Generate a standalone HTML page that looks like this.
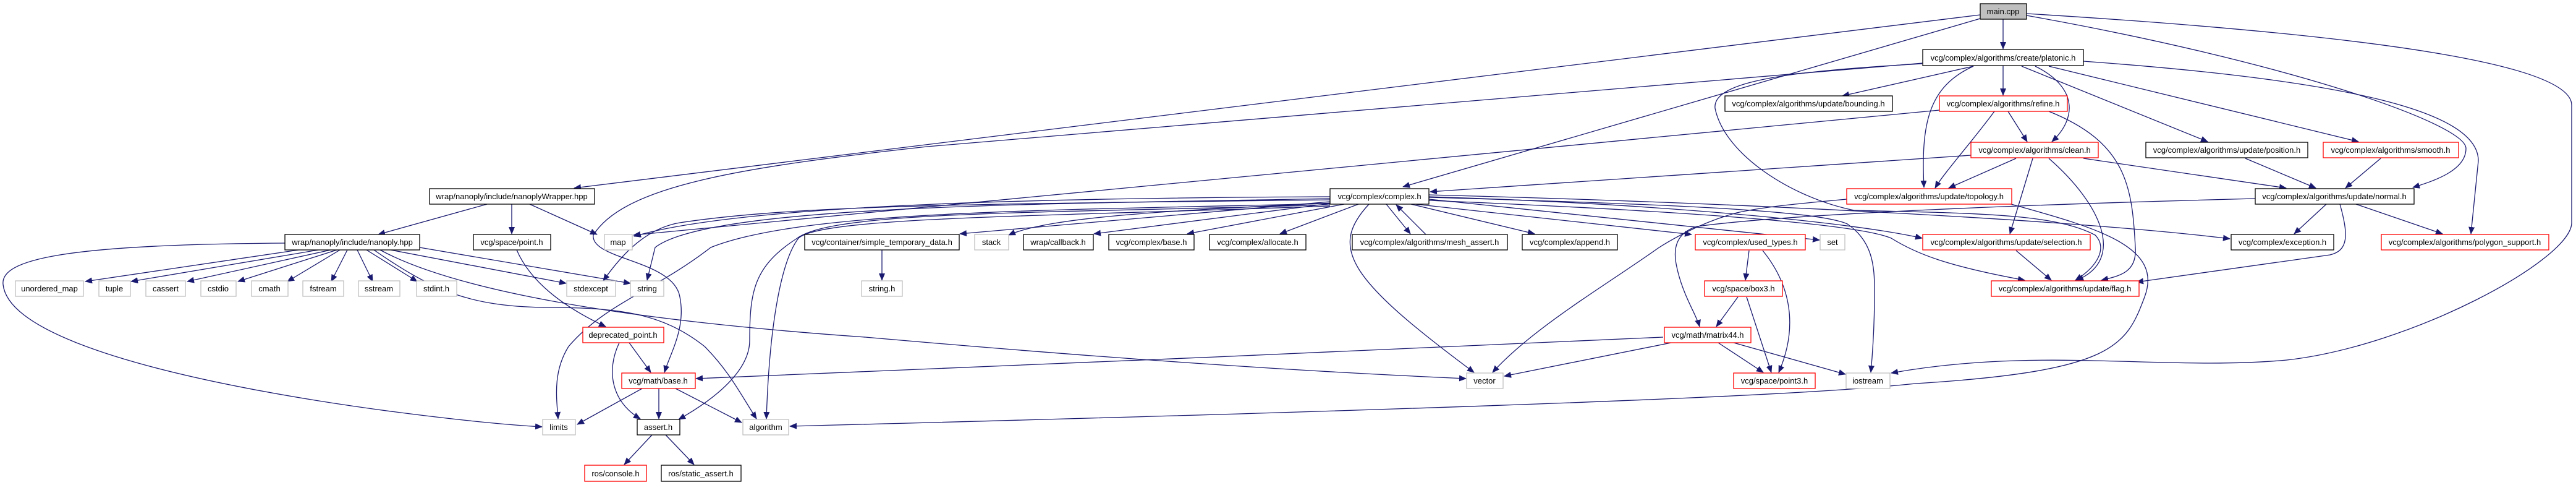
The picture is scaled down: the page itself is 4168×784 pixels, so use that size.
<!DOCTYPE html>
<html><head><meta charset="utf-8"><style>
html,body{margin:0;padding:0;background:#fff}
svg{display:block}
text{font-family:"Liberation Sans",sans-serif;font-size:13px;fill:#000}
</style></head><body>
<svg width="4168" height="784" viewBox="0 0 4168 784" xmlns="http://www.w3.org/2000/svg">
<defs>
<marker id="a" markerWidth="12" markerHeight="10" refX="11" refY="5" orient="auto" markerUnits="userSpaceOnUse">
<path d="M0,0 L12,5 L0,10 z" fill="#191970"/></marker>
</defs>
<g fill="none" stroke="#191970" stroke-width="1.3" marker-end="url(#a)">
<path d="M3241,31 L3241,79"/>
<path d="M3204,24 L929,304"/>
<path d="M3204,30 L2270,302"/>
<path d="M3279,25 C3700,100 3990,200 3990,240 C3990,275 3940,292 3904,303"/>
<path d="M3279,22 C3900,60 4161,110 4161,170 L4161,360 C4161,420 3900,560 3700,582 C3500,600 3300,560 3060,603"/>
<path d="M3111,102 L1500,237 C1200,270 1010,300 960,380 C955,420 1090,420 1100,480 C1110,530 1085,570 1075,602"/>
<path d="M3110,103 C2900,115 2770,130 2775,175 C2790,250 2900,320 3000,340 C3200,345 3323,345 3390,380 C3410,400 3395,430 3358,453"/>
<path d="M3193,107 L2981,155"/>
<path d="M3241,106 L3241,154"/>
<path d="M3193,107 C3120,140 3108,200 3113,303"/>
<path d="M3293,107 C3360,140 3362,190 3320,229"/>
<path d="M3271,107 L3572,229"/>
<path d="M3315,107 L3816,229"/>
<path d="M3371,99 C3800,130 4010,180 4010,260 L3998,378"/>
<path d="M3249,180 L3280,229"/>
<path d="M3227,180 C3190,230 3145,280 3131,304"/>
<path d="M3315,180 C3440,230 3450,300 3455,400 C3458,440 3430,446 3400,453"/>
<path d="M3138,178 L1025,380"/>
<path d="M3262,256 L3153,304"/>
<path d="M3371,256 L3699,304"/>
<path d="M3289,256 L3252,378"/>
<path d="M3315,256 C3400,330 3440,420 3360,453"/>
<path d="M3189,251 L2314,310"/>
<path d="M3633,256 L3747,304"/>
<path d="M3852,256 L3795,304"/>
<path d="M3764,330 L3712,378"/>
<path d="M3812,330 L3952,378"/>
<path d="M3786,330 C3800,380 3800,405 3770,412 L3457,456"/>
<path d="M3649,321 C3300,330 2900,345 2746,366 C2700,380 2710,420 2715,440 C2725,480 2745,510 2750,528"/>
<path d="M3254,330 C3400,370 3500,400 3470,480 C3440,560 3420,600 3100,620 C3000,630 2800,650 1278,689"/>
<path d="M2988,322 C2900,330 2850,335 2810,344 C2750,360 2700,390 2683,401 C2600,460 2480,530 2415,602"/>
<path d="M2290,330 L2737,379"/>
<path d="M2243,330 L2282,378"/>
<path d="M2307,379 L2259,331"/>
<path d="M2283,330 L2483,378"/>
<path d="M2198,330 L2071,378"/>
<path d="M2175,330 L1921,378"/>
<path d="M2160,328 L1770,378"/>
<path d="M2155,328 C1900,340 1700,350 1632,380"/>
<path d="M2152,326 L1553,378"/>
<path d="M2215,330 C2150,400 2180,450 2385,602"/>
<path d="M2312,322 L2944,388"/>
<path d="M2312,318 C2700,330 3000,360 3110,385"/>
<path d="M2312,315 C2900,330 3400,360 3608,386"/>
<path d="M2312,324 C2700,340 3000,360 3060,385 C3100,410 3150,430 3276,453"/>
<path d="M2312,319 C2700,330 2940,340 2989,362 C3030,390 3033,430 3033,470 C3033,520 3030,570 3027,602"/>
<path d="M2152,318 C1700,320 1200,330 1026,382"/>
<path d="M2152,321 C1700,330 1150,330 1060,400 L1047,453"/>
<path d="M2152,323 C1600,330 1300,330 1100,360 C1040,370 1000,420 976,454"/>
<path d="M2152,329 C1700,340 1300,340 1150,400 C1060,470 980,490 920,560 C895,600 900,640 903,677"/>
<path d="M2152,331 C1700,345 1350,340 1290,385 C1220,430 1213,470 1213,550 C1213,610 1130,660 1098,678"/>
<path d="M2152,333 C1700,350 1330,350 1292,385 C1265,420 1245,520 1240,677"/>
<path d="M788,330 L612,379"/>
<path d="M828,330 L828,378"/>
<path d="M857,330 L966,379"/>
<path d="M483,404 L138,455"/>
<path d="M515,404 L212,455"/>
<path d="M535,404 L303,455"/>
<path d="M545,404 L385,455"/>
<path d="M550,404 L465,455"/>
<path d="M562,404 L536,455"/>
<path d="M578,404 L603,455"/>
<path d="M593,404 L675,455"/>
<path d="M632,404 L916,458"/>
<path d="M679,400 L1020,458"/>
<path d="M461,393 C100,395 0,420 5,460 C20,600 700,680 877,690"/>
<path d="M615,404 C700,450 900,510 1400,545 C1800,580 2100,600 2372,612"/>
<path d="M605,404 C700,470 760,495 880,497 C1000,497 1070,505 1140,560 C1180,600 1200,640 1224,677"/>
<path d="M2691,545 C2200,570 1600,590 1126,612"/>
<path d="M2704,554 L2434,608"/>
<path d="M2780,554 L2853,602"/>
<path d="M2805,554 L2986,605"/>
<path d="M2830,405 L2824,453"/>
<path d="M2852,405 C2905,470 2905,540 2878,602"/>
<path d="M2812,480 L2777,528"/>
<path d="M2826,480 L2866,602"/>
<path d="M3262,405 L3319,453"/>
<path d="M836,404 C860,460 920,500 980,528"/>
<path d="M1018,554 L1053,602"/>
<path d="M1002,554 C980,600 990,650 1036,677"/>
<path d="M1039,628 L934,686"/>
<path d="M1066,628 L1066,677"/>
<path d="M1093,628 L1200,683"/>
<path d="M1055,703 L1010,751"/>
<path d="M1077,703 L1123,751"/>
<path d="M1427,404 L1427,453"/>
</g>
<g stroke-width="1.3">
<rect x="3204" y="6" width="75" height="25" fill="#bfbfbf" stroke="#000"/>
<g fill="#fff" stroke="#000">
<rect x="3111" y="80" width="260" height="26"/>
<rect x="2791" y="155" width="271" height="25"/>
<rect x="3472" y="230" width="262" height="25"/>
<rect x="3649" y="305" width="257" height="25"/>
<rect x="2152" y="305" width="160" height="25"/>
<rect x="695" y="305" width="267" height="25"/>
<rect x="461" y="379" width="218" height="25"/>
<rect x="766" y="379" width="125" height="25"/>
<rect x="1302" y="379" width="250" height="25"/>
<rect x="1656" y="379" width="113" height="25"/>
<rect x="1794" y="379" width="138" height="25"/>
<rect x="1957" y="379" width="156" height="25"/>
<rect x="2188" y="379" width="251" height="25"/>
<rect x="2463" y="379" width="154" height="25"/>
<rect x="3610" y="379" width="166" height="25"/>
<rect x="1031" y="678" width="69" height="25"/>
<rect x="1070" y="752" width="129" height="26"/>
</g>
<g fill="#fff" stroke="#ff0000">
<rect x="3138" y="155" width="207" height="25"/>
<rect x="3189" y="230" width="206" height="25"/>
<rect x="3759" y="230" width="219" height="25"/>
<rect x="2988" y="305" width="267" height="25"/>
<rect x="2743" y="379" width="178" height="25"/>
<rect x="3111" y="379" width="271" height="25"/>
<rect x="3853" y="379" width="271" height="25"/>
<rect x="2758" y="454" width="126" height="25"/>
<rect x="3222" y="454" width="239" height="25"/>
<rect x="2693" y="529" width="140" height="25"/>
<rect x="2805" y="603" width="132" height="25"/>
<rect x="943" y="529" width="131" height="25"/>
<rect x="1006" y="603" width="119" height="25"/>
<rect x="946" y="752" width="100" height="26"/>
</g>
<g fill="#fff" stroke="#bfbfbf">
<rect x="978" y="379" width="45" height="25"/>
<rect x="1577" y="379" width="55" height="25"/>
<rect x="2945" y="379" width="40" height="25"/>
<rect x="25" y="454" width="110" height="25"/>
<rect x="160" y="454" width="51" height="25"/>
<rect x="236" y="454" width="64" height="25"/>
<rect x="325" y="454" width="57" height="25"/>
<rect x="407" y="454" width="59" height="25"/>
<rect x="490" y="454" width="66" height="25"/>
<rect x="580" y="454" width="67" height="25"/>
<rect x="674" y="454" width="65" height="25"/>
<rect x="917" y="454" width="79" height="25"/>
<rect x="1020" y="454" width="54" height="25"/>
<rect x="1394" y="454" width="66" height="25"/>
<rect x="2373" y="603" width="59" height="25"/>
<rect x="2987" y="603" width="71" height="25"/>
<rect x="878" y="678" width="53" height="25"/>
<rect x="1202" y="678" width="74" height="25"/>
</g>
</g>
<g text-anchor="middle">
<text x="3241" y="23">main.cpp</text>
<text x="3241" y="98">vcg/complex/algorithms/create/platonic.h</text>
<text x="2926" y="172">vcg/complex/algorithms/update/bounding.h</text>
<text x="3603" y="247">vcg/complex/algorithms/update/position.h</text>
<text x="3777" y="322">vcg/complex/algorithms/update/normal.h</text>
<text x="2232" y="322">vcg/complex/complex.h</text>
<text x="828" y="322">wrap/nanoply/include/nanoplyWrapper.hpp</text>
<text x="570" y="396">wrap/nanoply/include/nanoply.hpp</text>
<text x="828" y="396">vcg/space/point.h</text>
<text x="1427" y="396">vcg/container/simple_temporary_data.h</text>
<text x="1712" y="396">wrap/callback.h</text>
<text x="1863" y="396">vcg/complex/base.h</text>
<text x="2035" y="396">vcg/complex/allocate.h</text>
<text x="2313" y="396">vcg/complex/algorithms/mesh_assert.h</text>
<text x="2540" y="396">vcg/complex/append.h</text>
<text x="3693" y="396">vcg/complex/exception.h</text>
<text x="1065" y="695">assert.h</text>
<text x="1134" y="770">ros/static_assert.h</text>
<text x="3241" y="172">vcg/complex/algorithms/refine.h</text>
<text x="3292" y="247">vcg/complex/algorithms/clean.h</text>
<text x="3868" y="247">vcg/complex/algorithms/smooth.h</text>
<text x="3121" y="322">vcg/complex/algorithms/update/topology.h</text>
<text x="2832" y="396">vcg/complex/used_types.h</text>
<text x="3246" y="396">vcg/complex/algorithms/update/selection.h</text>
<text x="3988" y="396">vcg/complex/algorithms/polygon_support.h</text>
<text x="2821" y="471">vcg/space/box3.h</text>
<text x="3341" y="471">vcg/complex/algorithms/update/flag.h</text>
<text x="2763" y="546">vcg/math/matrix44.h</text>
<text x="2871" y="620">vcg/space/point3.h</text>
<text x="1008" y="546">deprecated_point.h</text>
<text x="1065" y="620">vcg/math/base.h</text>
<text x="996" y="770">ros/console.h</text>
<text x="1000" y="396">map</text>
<text x="1604" y="396">stack</text>
<text x="2965" y="396">set</text>
<text x="80" y="471">unordered_map</text>
<text x="185" y="471">tuple</text>
<text x="268" y="471">cassert</text>
<text x="353" y="471">cstdio</text>
<text x="436" y="471">cmath</text>
<text x="523" y="471">fstream</text>
<text x="613" y="471">sstream</text>
<text x="706" y="471">stdint.h</text>
<text x="956" y="471">stdexcept</text>
<text x="1047" y="471">string</text>
<text x="1427" y="471">string.h</text>
<text x="2402" y="620">vector</text>
<text x="3022" y="620">iostream</text>
<text x="904" y="695">limits</text>
<text x="1239" y="695">algorithm</text>
</g>
</svg>
</body></html>
